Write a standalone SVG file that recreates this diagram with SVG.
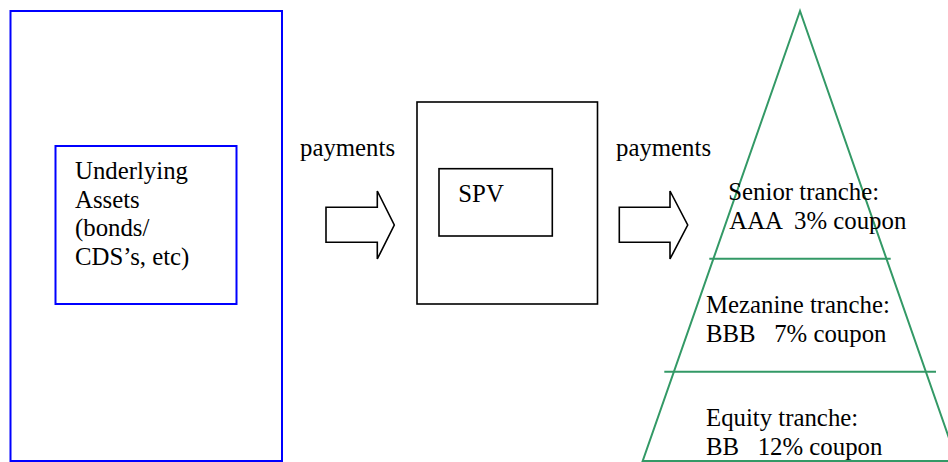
<svg xmlns="http://www.w3.org/2000/svg" width="948" height="462" viewBox="0 0 948 462">
<style>
text{font-family:"Liberation Serif","Times New Roman",serif;font-size:24.8px;fill:#000}
.blue{fill:none;stroke:#0000ff;stroke-width:2}
.blk{fill:none;stroke:#000;stroke-width:1.6}
.arrow{fill:#fff;stroke:#000;stroke-width:1.6;stroke-linejoin:miter}
.grn{fill:none;stroke:#339966;stroke-width:2}
</style>
<rect width="948" height="462" fill="#fff"/>
<g id="assets-outer"><rect class="blue" x="10.5" y="11" width="271.5" height="450"/></g>
<g id="assets">
<rect class="blue" x="55.5" y="146" width="181" height="158"/>
<text x="75" y="179">Underlying</text>
<text x="75" y="207.7">Assets</text>
<text x="75" y="236.3">(bonds/</text>
<text x="75" y="265">CDS’s, etc)</text>
</g>
<g id="spv-outer"><rect class="blk" x="417" y="102" width="180.5" height="202"/></g>
<g id="spv">
<rect class="blk" x="439" y="168.7" width="113.3" height="67.3"/>
<text x="458.3" y="201.7">SPV</text>
</g>
<g id="tranches">
<polygon class="grn" points="800,11 642.7,461 957,461"/>
<line class="grn" x1="709.3" y1="258.7" x2="890.7" y2="258.7"/>
<line class="grn" x1="664.3" y1="371.7" x2="936" y2="371.7"/>
</g>
<g id="senior"><text x="728.3" y="200">Senior tranche:</text><text x="729.3" y="229.3" xml:space="preserve">AAA  3% coupon</text></g>
<g id="mezzanine"><text x="706" y="312.7">Mezanine tranche:</text><text x="706" y="342.3" xml:space="preserve">BBB   7% coupon</text></g>
<g id="equity"><text x="706" y="425.7">Equity tranche:</text><text x="706" y="455" xml:space="preserve">BB   12% coupon</text></g>
<g id="connectors">
<polygon class="arrow" points="326,207.3 377.3,207.3 377.3,191 394.3,225 377.3,259 377.3,242.3 326,242.3"/>
<text x="300" y="156">payments</text>
<polygon class="arrow" points="619.3,207.3 670,207.3 670,191 687.7,225 670,259 670,242.3 619.3,242.3"/>
<text x="616" y="156">payments</text>
</g>
</svg>
